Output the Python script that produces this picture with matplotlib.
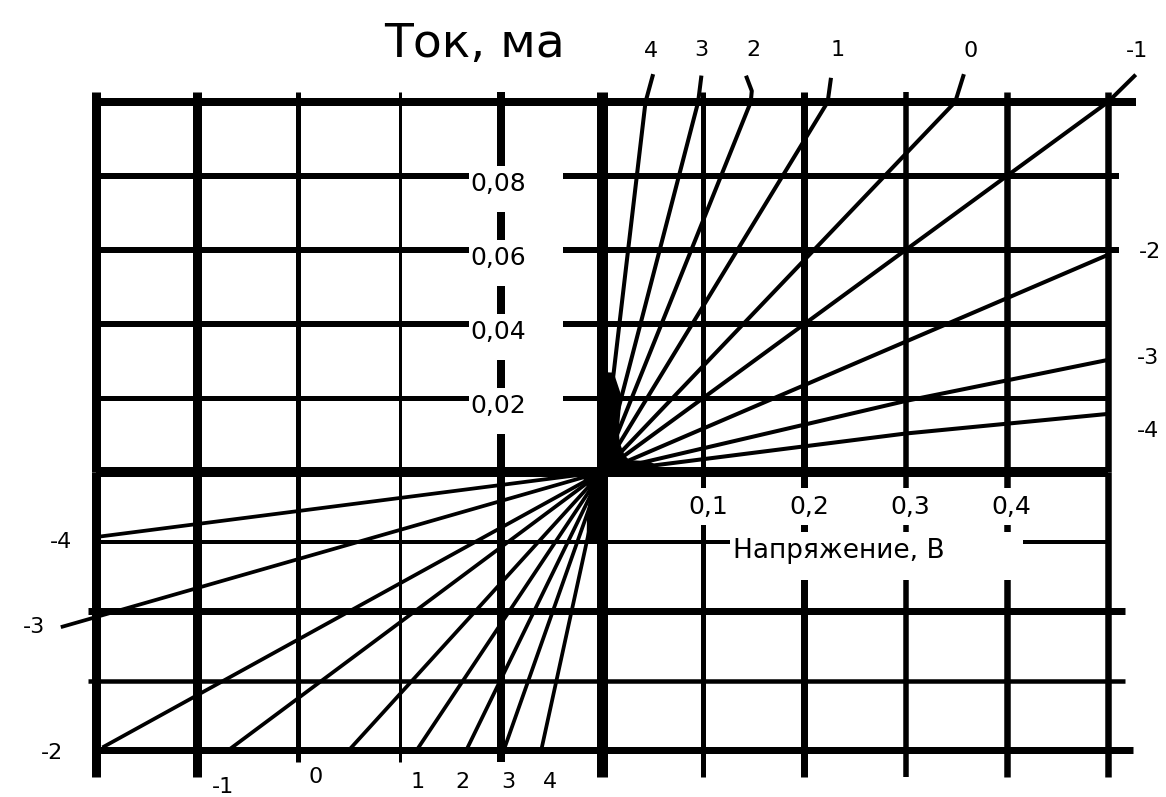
# -*- coding:utf-8 -*-
"""
Вольт-амперные характеристики: прямые ветви (ток, мА) и обратные лучи
"""
import math

import matplotlib
matplotlib.use('Agg')
from matplotlib import pyplot as plt
from matplotlib.path import Path

# параметр каждой кривой
curve_labels = ['4', '3', '2', '1', '0', '-1', '-2', '-3', '-4']

# прямая ветвь: напряжение, В
forward_v = [
    [0, 0.043, 0.050],
    [0, 0.095, 0.098],
    [0, 0.147, 0.148, 0.143],
    [0, 0.223, 0.226],
    [0, 0.349, 0.357],
    [0, 0.500, 0.526],
    [0, 0.500],
    [0, 0.300, 0.500],
    [0, 0.300, 0.500],
]
# прямая ветвь: ток, мА
forward_i = [
    [0, 0.100, 0.107],
    [0, 0.100, 0.1066],
    [0, 0.100, 0.103, 0.1066],
    [0, 0.100, 0.106],
    [0, 0.100, 0.107],
    [0, 0.100, 0.107],
    [0, 0.0587],
    [0, 0.0192, 0.0303],
    [0, 0.0104, 0.0157],
]

# нижний левый квадрант: концы лучей из начала координат
reverse_v = [-0.060, -0.097, -0.134, -0.183, -0.250, -0.369, -0.492, -0.533, -0.497]
reverse_i = [-0.080, -0.080, -0.080, -0.080, -0.080, -0.080, -0.079, -0.0445, -0.0186]

y_ticks = [0.08, 0.06, 0.04, 0.02]
x_ticks = [0.1, 0.2, 0.3, 0.4]

W, H = 1166, 797
PT = 72.0 / 100  # пиксели -> пункты при dpi=100


def gap_box(left, right, top, bottom):
    """Белая подложка под подписью с разными отступами (в долях кегля)."""
    def box(x0, y0, width, height, size):
        x1 = x0 + width + right * size
        y1 = y0 + height + top * size
        x0 -= left * size
        y0 -= bottom * size
        return Path([(x0, y0), (x1, y0), (x1, y1), (x0, y1), (x0, y0)], closed=True)
    return box


def fan(ax, ends, radii, sx, sy):
    """Сливающиеся у начала координат линии - сплошной веер."""
    pts = [(0, 0)]
    for (v, i), r in zip(ends, radii):
        length = math.hypot(v * sx, i * sy)
        pts.append((v * r / length, i * r / length))
    pts.append((0, 0))
    xs, ys = zip(*pts)
    ax.fill(xs, ys, color='black', lw=0, zorder=2, clip_on=False)


fig = plt.figure(figsize=(W / 100, H / 100), dpi=100)
fig.patch.set_facecolor('white')
# верх: прямая ветвь, низ: обратная (свой масштаб по вертикали)
ax_top = fig.add_axes([96 / W, (H - 472) / H, 1012 / W, 370 / H])
ax_bot = fig.add_axes([96 / W, (H - 750) / H, 1012 / W, 278 / H], sharex=ax_top)
ax_top.set_xlim(-0.5, 0.5)
ax_top.set_ylim(0, 0.1)
ax_bot.set_ylim(-0.08, 0)
for ax in (ax_top, ax_bot):
    ax.set_axis_off()
sx = 1012 / 1.0        # пикселей на вольт
sy_top = 370 / 0.1     # пикселей на мА сверху
sy_bot = 278 / 0.08    # и снизу

# вертикальные линии сетки: толщина и нижний вынос (пиксели)
grid_x = [-0.5, -0.4, -0.3, -0.2, -0.1, 0.0, 0.1, 0.2, 0.3, 0.4, 0.5]
v_width = [9, 9, 5, 3, 8, 11, 5, 7, 5.5, 6.5, 6.5]
v_below = [27, 27, 12, 12, 12, 27, 27, 27, 27, 27, 27]
for x, lw, below in zip(grid_x, v_width, v_below):
    ax_top.axvline(x, 0, 1 + 10 / 370, color='black', lw=lw * PT,
                   solid_capstyle='butt', clip_on=False, zorder=1)
    ax_bot.axvline(x, -below / 278, 1, color='black', lw=lw * PT,
                   solid_capstyle='butt', clip_on=False, zorder=1)

# горизонтальные линии сетки
top_y = [0.1, 0.08, 0.06, 0.04, 0.02, 0.0]
top_width = [8, 6, 6, 6, 5, 10]
top_right = [1136, 1119, 1119, 1108, 1108, 1108]
for y, lw, right in zip(top_y, top_width, top_right):
    ax_top.axhline(y, 0, (right - 96) / 1012, color='black', lw=lw * PT,
                   solid_capstyle='butt', clip_on=False, zorder=1)

bot_y = [-0.02, -0.04, -0.06, -0.08]
bot_width = [4, 7, 4.5, 7]
bot_left = [96, 88, 88, 96]
bot_right = [1110, 1125, 1125, 1133]
for y, lw, left, right in zip(bot_y, bot_width, bot_left, bot_right):
    ax_bot.axhline(y, (left - 96) / 1012, (right - 96) / 1012, color='black',
                   lw=lw * PT, solid_capstyle='butt', clip_on=False, zorder=1)

# кривые
label_font = dict(fontsize=16, ha='center', va='center', color='black')
fwd_offsets = [(-2, 25), (0, 28), (7, 28), (7, 30), (7, 25), (3, 25),
               (42, 3), (40, 2), (40, -17)]
rev_offsets = [(9, -32), (4, -32), (-4, -32), (1, -32), (-33, -27), (-6, -37),
               (-52, -6), (-29, 0), (-38, -5)]

for name, v, i, off in zip(curve_labels, forward_v, forward_i, fwd_offsets):
    ax_top.plot(v, i, color='black', lw=2.9, clip_on=False, zorder=3,
                solid_joinstyle='round')
    ax_top.annotate(name, xy=(v[-1], i[-1]), xytext=off,
                    textcoords='offset pixels', annotation_clip=False, **label_font)

for name, v, i, off in zip(curve_labels, reverse_v, reverse_i, rev_offsets):
    ax_bot.plot([0, v], [0, i], color='black', lw=2.7, clip_on=False, zorder=3)
    ax_bot.annotate(name, xy=(v, i), xytext=off,
                    textcoords='offset pixels', annotation_clip=False, **label_font)

# сгусток линий у начала координат
fan(ax_top, [(0, 1)] + [(v[1], i[1]) for v, i in zip(forward_v, forward_i)] + [(1, 0)],
    [100, 100, 78, 45, 34, 30, 28, 30, 48, 55, 55], sx, sy_top)
fan(ax_bot, [(0, -1)] + list(zip(reverse_v, reverse_i)) + [(-1, 0)],
    [72, 72, 45, 30, 24, 22, 20, 20, 20, 20, 18], sx, sy_bot)

# подписи осей с белой подложкой, разрывающей сетку
for y in y_ticks:
    ax_top.annotate('{:.2f}'.format(y).replace('.', ','), xy=(-0.1304, y),
                    xytext=(0, -8), textcoords='offset pixels',
                    ha='left', va='center', fontsize=18, zorder=5,
                    bbox=dict(boxstyle=gap_box(0.05, 1.5, 0.25, 0.65),
                              fc='white', ec='none'))

for x in x_ticks:
    ax_bot.annotate('{:.1f}'.format(x).replace('.', ','), xy=(x, 0),
                    xytext=(5, -35), textcoords='offset pixels',
                    ha='center', va='center', fontsize=18, zorder=5,
                    bbox=dict(boxstyle=gap_box(0.2, 0.2, 0.3, 0.22),
                              fc='white', ec='none'))

ax_bot.text(0.129, -0.0227, 'Напряжение, В', ha='left', va='center',
            fontsize=19, zorder=5,
            bbox=dict(boxstyle=gap_box(0.1, 3.0, 0.22, 0.6), fc='white', ec='none'))

fig.text(474 / W, 1 - 45 / H, 'Ток, ма', ha='center', va='center', fontsize=34)

fig.savefig('out.png', dpi=100, facecolor='white')
